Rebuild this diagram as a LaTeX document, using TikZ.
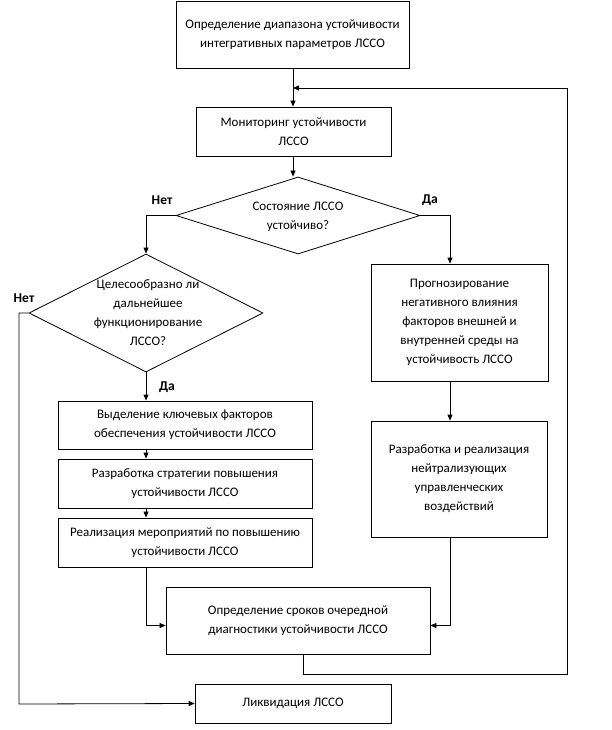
\documentclass[tikz,border=0pt]{standalone}
\usepackage{fontspec}
\setmainfont{Carlito}
\usetikzlibrary{arrows.meta,shapes.geometric,calc}
\begin{document}
\begin{tikzpicture}[x=1pt,y=-1pt,
  box/.style={draw,line width=0.8pt,rectangle,inner sep=0pt,align=center,
     font=\fontsize{13}{19}\selectfont},
  dia/.style={draw,line width=0.8pt,diamond,inner sep=0pt},
  txt/.style={align=center,inner sep=0pt,font=\fontsize{13}{19}\selectfont},
  lab/.style={inner sep=0pt,font=\fontsize{13.5}{16}\selectfont\bfseries},
  con/.style={line width=0.8pt},
  arr/.style={line width=0.8pt,-{Triangle[length=6pt,width=5pt]}}]
\useasboundingbox (0,0) rectangle (611,730);
\fill[white] (0,0) rectangle (611,730);
% nodes
\node[box,minimum width=233pt,minimum height=67pt] (b1) at (292.5,34.5)
  {Определение диапазона устойчивости\\интегративных параметров ЛССО};
\node[box,minimum width=195pt,minimum height=49pt] (b2) at (293.5,131.5)
  {Мониторинг устойчивости\\ЛССО};
\node[dia,minimum width=244pt,minimum height=77pt] (d1) at (298,215.5) {};
\node[txt] (t1) at (298,217) {Состояние ЛССО\\устойчиво?};
\node[dia,minimum width=234pt,minimum height=118pt] (d2) at (146,313) {};
\node[txt] (t2) at (148,313) {Целесообразно ли\\дальнейшее\\функционирование\\ЛССО?};
\node[box,minimum width=177pt,minimum height=117pt] (b3) at (459.5,322.5)
  {Прогнозирование\\негативного влияния\\факторов внешней и\\внутренней среды на\\устойчивость ЛССО};
\node[box,minimum width=254pt,minimum height=48pt] (b4) at (185,425)
  {Выделение ключевых факторов\\обеспечения устойчивости ЛССО};
\node[box,minimum width=254pt,minimum height=49pt] (b5) at (185,483.5)
  {Разработка стратегии повышения\\устойчивости ЛССО};
\node[box,minimum width=254pt,minimum height=49pt] (b6) at (185,542.5)
  {Реализация мероприятий по повышению\\устойчивости ЛССО};
\node[box,minimum width=176pt,minimum height=116pt] (b7) at (459,479)
  {Разработка и реализация\\нейтрализующих\\управленческих\\воздействий};
\node[box,minimum width=264pt,minimum height=67pt] (b8) at (298,620.5)
  {Определение сроков очередной\\диагностики устойчивости ЛССО};
\node[box,minimum width=196pt,minimum height=39pt] (b9) at (293,703.5)
  {Ликвидация ЛССО};
% labels
\node[lab] (n1) at (162,200) {Нет};
\node[lab] (y1) at (430,200) {Да};
\node[lab] (n2) at (24,298) {Нет};
\node[lab] (y2) at (167,387) {Да};
% helper coordinates
\coordinate (cl) at (146,0);
\coordinate (cr) at (450,0);
\coordinate (cb) at (303,0);
\coordinate (j1) at (293,88);
\coordinate (r1) at (567,674);
\coordinate (l1) at (19,704);
% connectors
\draw[arr] (b1.south -| j1) -- (b2.north -| j1);
\draw[arr] (b2.south -| j1) -- (d1.north -| j1);
\draw[arr] (d1.west) -| (d2.north);
\draw[arr] (d1.east) -| (b3.north -| cr);
\draw[arr] (d2.south) -- (b4.north -| cl);
\draw[arr] (b4.south -| cl) -- (b5.north -| cl);
\draw[arr] (b5.south -| cl) -- (b6.north -| cl);
\draw[arr] (b3.south -| cr) -- (b7.north -| cr);
\draw[arr] (b6.south -| cl) |- ($(b8.west)+(0,5)$);
\draw[arr] (b7.south -| cr) |- ($(b8.east)+(0,5)$);
\draw[arr] (b8.south -| cb) |- (r1) |- (j1);
\draw[arr] (d2.west) -| (l1) -- (b9.west);
\end{tikzpicture}
\end{document}
